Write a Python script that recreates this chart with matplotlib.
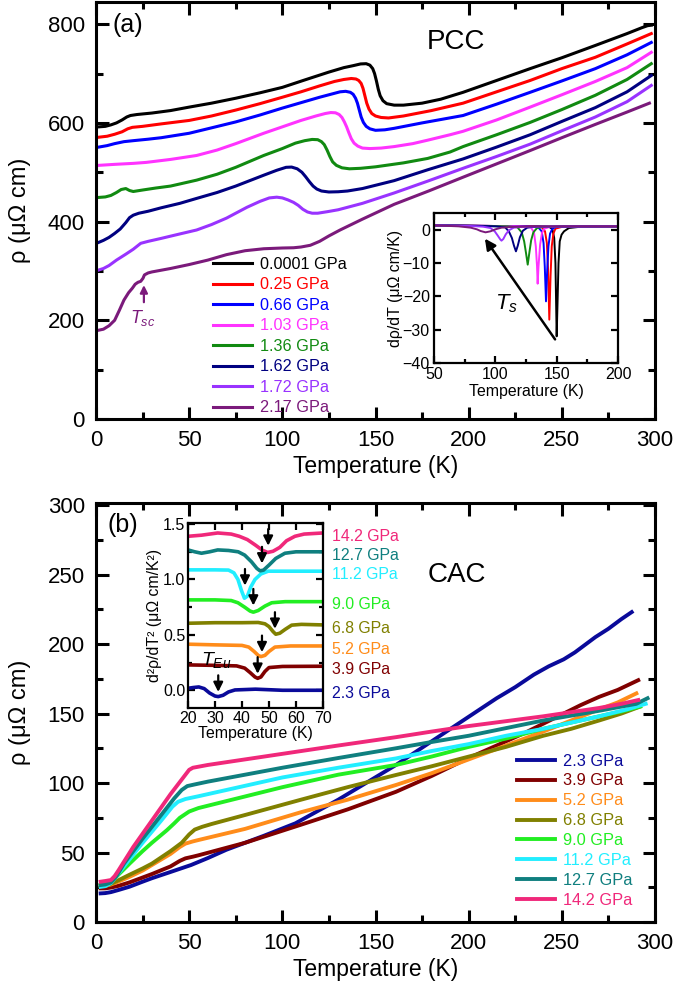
import numpy as np
import matplotlib
matplotlib.use('Agg')
import matplotlib.pyplot as plt
from matplotlib.ticker import MultipleLocator, FormatStrFormatter

plt.rcParams.update({
    'font.family': 'Liberation Sans',
    'mathtext.fontset': 'custom',
    'mathtext.rm': 'Liberation Sans',
    'mathtext.it': 'Liberation Sans:italic',
    'font.size': 16,
    'axes.linewidth': 2.2,
})

# ---------------- panel (a): PCC resistivity ----------------
pcc_labels = ['0.0001 GPa', '0.25 GPa', '0.66 GPa', '1.03 GPa',
              '1.36 GPa', '1.62 GPa', '1.72 GPa', '2.17 GPa']
pcc_colors = ['#000000', '#ff0000', '#0000ff', '#ff33ff',
              '#118a11', '#000080', '#9933ff', '#7b1a7b']

pcc_T_0 = [1.5, 5, 8, 11, 14, 16.5, 18.5, 22, 30, 40, 50, 62, 75, 88, 100, 112, 125, 133, 138, 142, 145, 147,
           148.5, 149.5, 150.5, 151.5, 152.5, 154, 156, 160, 165, 175, 185, 197, 215, 233, 250, 268, 285, 293, 296, 298]
pcc_r_0 = [592, 593, 596, 600, 606, 612, 615, 617, 620, 625, 632, 640, 650, 661, 672, 687, 703, 712, 716, 719.5, 720, 717,
           710, 700, 685, 668, 655, 645, 639, 636, 636, 640, 648, 662, 686, 710, 732, 757, 781, 793, 797, 798]
pcc_T_1 = [1.5, 6, 10, 14, 17, 19.5, 25, 35, 50, 62, 75, 88, 100, 110, 120, 128, 133, 137, 139.5, 141, 142.3, 143.3,
           144.3, 145.3, 146.5, 148, 150, 153, 157, 165, 180, 197, 215, 233, 250, 268, 285, 298]
pcc_r_1 = [571, 573, 577, 582, 588, 591, 593, 598, 605, 614, 626, 639, 652, 663, 675, 684, 688, 690, 689, 686, 680, 670,
           655, 640, 628, 619, 614, 611, 610, 614, 625, 640, 663, 686, 710, 733, 760, 781]
pcc_T_2 = [1.5, 6, 10, 15, 20, 28, 35, 50, 62, 75, 88, 100, 110, 120, 127, 131, 134, 136.5, 138, 139.3, 140.3, 141.3,
           142.3, 143.5, 145, 147, 150, 155, 160, 175, 197, 215, 233, 250, 268, 285, 298]
pcc_r_2 = [551, 554, 558, 562, 564, 567, 570, 579, 590, 602, 616, 630, 641, 652, 659, 663, 664, 662, 658, 650, 640, 626,
           612, 601, 593, 588, 585, 586, 589, 600, 615, 638, 662, 685, 710, 738, 763]
pcc_T_3 = [1.5, 10, 20, 27, 40, 54, 65, 75, 90, 100, 110, 118, 123, 126, 128.5, 130.5, 132, 133.3, 134.5, 135.7, 137,
           138.5, 140.5, 143, 147, 153, 160, 170, 178, 190, 197, 215, 233, 250, 268, 285, 298]
pcc_r_3 = [514, 516, 518, 520, 526, 534, 545, 558, 579, 592, 605, 614, 619, 621, 620.5, 617, 611, 602, 592, 580, 568,
           559, 553, 549, 548, 549, 552, 558, 565, 576, 583, 606, 632, 657, 684, 712, 743]
pcc_T_4 = [1.5, 5, 8, 11, 13.5, 16, 18, 20, 25, 32, 40, 54, 65, 75, 90, 100, 107, 112, 116, 119, 121, 122.5, 124,
           125.5, 127, 129, 132, 136, 142, 150, 165, 178, 190, 197, 215, 233, 250, 268, 285, 298]
pcc_r_4 = [449, 450, 453, 459, 465, 467, 463, 461, 464, 468, 472, 484, 496, 510, 534, 548, 559, 564, 566.5, 566, 562,
           556, 545, 532, 521, 514, 509, 507, 508, 511, 519, 528, 541, 552, 576, 601, 627, 656, 688, 720]
pcc_T_5 = [1.5, 4, 7, 10, 13, 16, 18, 20, 23, 28, 35, 45, 54, 65, 75, 90, 97, 102, 105, 108, 110.5, 112.5, 114.5,
           116.5, 118.5, 121, 125, 130, 135, 143, 160, 178, 197, 215, 233, 250, 268, 285, 298]
pcc_r_5 = [358, 362, 368, 376, 385, 398, 408, 413, 417, 421, 428, 437, 447, 459, 472, 494, 504, 510, 510.5, 507, 500,
           491, 481, 472, 466, 462, 460, 460.5, 462, 467, 483, 505, 527, 551, 576, 603, 631, 663, 696]
pcc_T_6 = [1.5, 4, 7, 11, 16, 20, 22, 24, 28, 35, 45, 54, 62, 70, 81, 88, 93, 97, 100, 103, 106, 108.5, 111, 113.5,
           116, 119, 124, 130, 143, 160, 178, 197, 215, 233, 250, 268, 285, 298]
pcc_r_6 = [302, 305, 311, 322, 334, 344, 350, 356, 360, 366, 375, 383, 394, 407, 429, 441, 448, 449.5, 448, 444, 439,
           433, 425, 419.5, 417, 417, 420, 424, 437, 458, 482, 508, 532, 557, 584, 612, 643, 676]
pcc_T_7 = [1.5, 4, 7, 10, 12.5, 15, 17.5, 19.5, 21, 22.5, 24, 25.2, 26, 28, 30, 40, 50, 60, 70, 80, 90, 100, 106,
           110, 115, 120, 125, 131, 143, 160, 178.5, 197, 215, 233, 250, 268, 285, 297]
pcc_r_7 = [180, 182, 189, 200, 220, 241, 256, 265, 273, 277, 279, 285, 292, 296, 298, 305, 313, 322, 333, 341, 345,
           346.5, 347, 348.5, 352, 360, 371, 383, 405, 435, 462, 490, 517, 544, 570, 597, 622, 640]

# inset (a): d rho / dT
d1_T_0 = [50, 100, 135, 144, 146.5, 148, 149, 150, 150.7, 151.5, 152.5, 154, 156, 160, 170, 200]
d1_v_0 = [1.3, 1.1, 1.0, 0.8, 0.2, -2.5, -10, -32, -22, -10, -3.5, -1.5, -0.5, 0.5, 0.9, 1.0]
d1_T_1 = [50, 100, 130, 138, 140.5, 142, 143, 144, 145, 146, 147.3, 149, 155, 200]
d1_v_1 = [1.3, 1.1, 1.0, 0.7, -0.5, -4, -12, -27, -14, -5, -1.2, 0.3, 0.9, 1.0]
d1_T_2 = [50, 100, 125, 135, 137.8, 139.3, 140.3, 141.3, 142.3, 143.3, 144.6, 146.5, 150, 200]
d1_v_2 = [1.3, 1.1, 1.0, 0.7, -0.5, -4, -11, -21.5, -12, -5, -1.2, 0.3, 0.9, 1.0]
d1_T_3 = [50, 100, 120, 129, 131.5, 133, 134, 134.5, 135.2, 136.5, 138, 140, 145, 200]
d1_v_3 = [1.3, 1.1, 1.0, 0.7, -0.8, -5, -11, -16.2, -11, -4.5, -1.0, 0.3, 0.9, 1.0]
d1_T_4 = [50, 90, 110, 118, 121.5, 123.5, 125, 126.4, 127.7, 129.2, 131, 134, 140, 200]
d1_v_4 = [1.3, 1.1, 1.0, 0.7, -0.8, -3.5, -7, -10.5, -7, -3.2, -0.8, 0.5, 0.9, 1.0]
d1_T_5 = [50, 90, 100, 108, 111, 113.5, 115.2, 116.8, 118.3, 120, 122.5, 126, 132, 200]
d1_v_5 = [1.3, 1.1, 1.0, 0.7, -0.5, -2.5, -4.8, -6.5, -4.8, -2.3, -0.3, 0.6, 0.9, 1.0]
d1_T_6 = [50, 80, 90, 96, 99.5, 102, 104, 105, 106.5, 108.5, 111, 115, 122, 200]
d1_v_6 = [1.3, 1.1, 0.9, 0.5, -0.5, -1.8, -2.9, -3.3, -2.8, -1.4, -0.2, 0.6, 0.9, 1.0]
d1_T_7 = [50, 70, 80, 85, 88, 92, 96, 100, 105, 112, 130, 200]
d1_v_7 = [1.3, 1.0, 0.6, 0.1, -0.4, -0.8, -0.5, 0.1, 0.6, 0.8, 1.0, 1.0]

# ---------------- panel (b): CAC resistivity ----------------
cac_labels = ['2.3 GPa', '3.9 GPa', '5.2 GPa', '6.8 GPa',
              '9.0 GPa', '11.2 GPa', '12.7 GPa', '14.2 GPa']
cac_colors = ['#0a0a9a', '#800000', '#ff8c1a', '#808000',
              '#22ee22', '#22eeff', '#0f7f7f', '#f0287a']

cac_T_0 = [2.5, 5, 8, 12, 18, 25, 30, 40, 51, 60, 70, 90, 107, 130, 161, 170, 179, 188, 197, 206, 215, 225, 235,
           243, 251, 257, 262, 268, 275, 282, 287.5]
cac_r_0 = [20.6, 20.8, 21.5, 23, 25.4, 29, 31.5, 36, 41, 46, 52, 62, 71, 88, 113, 121, 129, 137, 145, 153, 161, 169,
           178, 184, 189, 194, 199, 205, 211, 218, 223]
cac_T_1 = [2.5, 5, 8, 12, 18, 25, 30, 40, 45, 48, 52, 55, 80, 110, 135, 161, 180, 200, 215, 230, 245, 260, 270, 280, 291]
cac_r_1 = [24.2, 24.2, 24.8, 26, 28.5, 32, 34.5, 40, 44, 45.8, 47, 48, 57, 70, 81, 93.7, 105, 118, 127, 136, 146,
           156, 162, 167, 174]
cac_T_2 = [2.5, 5, 8, 12, 18, 25, 30, 40, 45, 48, 52, 55, 80, 110, 135, 161, 180, 200, 220, 240, 255, 270, 280, 290]
cac_r_2 = [26, 26, 27, 29, 32.5, 37, 41, 49, 54, 56.4, 58, 59, 67, 79, 88, 98.6, 107, 117, 127, 137, 145, 153, 158, 164.5]
cac_T_3 = [2.5, 5, 8, 12, 18, 25, 30, 40, 46, 50, 53, 57, 62, 80, 110, 135, 161, 180, 200, 220, 240, 255, 270, 282, 292]
cac_r_3 = [26, 26.3, 27.5, 30, 34, 38.5, 42, 51, 57, 63, 66.5, 68.5, 70.5, 77, 88, 97, 105.8, 112, 119, 126, 134,
           139, 145, 150, 155]
cac_T_4 = [2.5, 5, 8, 12, 18, 25, 30, 38, 42, 45, 50, 55, 70, 100, 130, 161, 180, 200, 220, 240, 255, 270, 282, 292]
cac_r_4 = [26.6, 27, 29, 34, 42, 51, 57, 66, 71, 75, 79.5, 82, 87, 97, 106, 113, 119, 126, 132, 139, 143.5, 148,
           151.5, 155]
cac_T_5 = [2.5, 5, 8, 11, 15, 25, 35, 41, 44, 48, 55, 70, 100, 130, 161, 180, 200, 220, 240, 255, 270, 285, 295]
cac_r_5 = [25.3, 25.8, 28, 33, 40, 57, 73, 83, 86.5, 88.5, 90.5, 95, 104, 111, 117.7, 123, 128, 134, 139, 143.5,
           148, 153, 157]
cac_T_6 = [2.5, 5, 8, 11, 15, 25, 35, 42, 46, 49, 53, 60, 100, 130, 161, 180, 200, 220, 240, 255, 270, 282, 290, 296]
cac_r_6 = [26.6, 27, 28.5, 33, 42, 60, 77, 89, 95, 97.8, 99, 101, 111, 118, 125, 129.5, 134, 139.5, 145, 148.5,
           152, 155, 157, 161]
cac_T_7 = [2.5, 5, 8, 10, 12, 20, 30, 40, 48, 50, 52, 56, 60, 100, 130, 161, 180, 200, 220, 240, 255, 270, 282, 291]
cac_r_7 = [29, 29.5, 30.2, 33, 37, 54, 73, 92, 106, 109.5, 111, 112, 113, 121, 127, 133, 137, 141, 144.5, 148, 151,
           154, 157, 159.7]

# inset (b): d2 rho / dT2
d2_T_0 = [20, 22, 24, 26, 28, 30, 31.2, 33, 35, 37.4, 45, 55, 70]
d2_v_0 = [0.018, 0.025, 0.03, 0.015, -0.025, -0.052, -0.057, -0.045, -0.015, 0.003, 0.01, 0.0, 0.0]
d2_T_1 = [20, 30, 38, 41, 43, 44.8, 45.8, 47, 48.5, 50, 55, 70]
d2_v_1 = [0.229, 0.225, 0.22, 0.2, 0.16, 0.12, 0.108, 0.12, 0.17, 0.205, 0.215, 0.217]
d2_T_2 = [20, 30, 40, 42.5, 44.5, 46, 47, 48.5, 50, 52.2, 58, 70]
d2_v_2 = [0.416, 0.41, 0.405, 0.39, 0.35, 0.315, 0.304, 0.315, 0.35, 0.39, 0.4, 0.4]
d2_T_3 = [20, 30, 40, 46, 48.5, 50, 51.5, 52.5, 54, 56, 58.4, 62, 70]
d2_v_3 = [0.605, 0.61, 0.61, 0.612, 0.6, 0.575, 0.53, 0.506, 0.515, 0.55, 0.588, 0.595, 0.59]
d2_T_4 = [20, 30, 36, 38.5, 41, 43, 44.2, 46, 48.5, 51, 56, 70]
d2_v_4 = [0.816, 0.816, 0.81, 0.79, 0.75, 0.715, 0.705, 0.72, 0.76, 0.79, 0.8, 0.8]
d2_T_5 = [20, 30, 35, 37, 38.5, 39.8, 40.9, 42, 43.2, 44.8, 47, 49.7, 70]
d2_v_5 = [1.087, 1.087, 1.085, 1.06, 1.0, 0.9, 0.831, 0.85, 0.93, 1.0, 1.05, 1.075, 1.075]
d2_T_6 = [20, 22.5, 25, 28, 31, 35, 38.6, 41, 43.5, 45.5, 46.7, 48, 50, 52.5, 55.9, 60, 70]
d2_v_6 = [1.267, 1.25, 1.237, 1.25, 1.267, 1.262, 1.25, 1.22, 1.16, 1.1, 1.078, 1.085, 1.13, 1.19, 1.237, 1.25, 1.25]
d2_T_7 = [20, 25, 31, 36, 39, 42, 45, 47.5, 49.5, 51.5, 54, 56.5, 59.6, 63, 70]
d2_v_7 = [1.39, 1.4, 1.42, 1.41, 1.39, 1.36, 1.31, 1.265, 1.244, 1.255, 1.29, 1.35, 1.39, 1.41, 1.42]

# T_Eu arrow positions (inset b)
eu_T = [31.2, 45.8, 47.4, 52.2, 44.2, 41.1, 47.4, 49.7]
eu_tip = [-0.04, 0.124, 0.319, 0.53, 0.74, 0.92, 1.12, 1.28]

pcc_T = [pcc_T_0, pcc_T_1, pcc_T_2, pcc_T_3, pcc_T_4, pcc_T_5, pcc_T_6, pcc_T_7]
pcc_r = [pcc_r_0, pcc_r_1, pcc_r_2, pcc_r_3, pcc_r_4, pcc_r_5, pcc_r_6, pcc_r_7]
d1_T = [d1_T_0, d1_T_1, d1_T_2, d1_T_3, d1_T_4, d1_T_5, d1_T_6, d1_T_7]
d1_v = [d1_v_0, d1_v_1, d1_v_2, d1_v_3, d1_v_4, d1_v_5, d1_v_6, d1_v_7]
cac_T = [cac_T_0, cac_T_1, cac_T_2, cac_T_3, cac_T_4, cac_T_5, cac_T_6, cac_T_7]
cac_r = [cac_r_0, cac_r_1, cac_r_2, cac_r_3, cac_r_4, cac_r_5, cac_r_6, cac_r_7]
d2_T = [d2_T_0, d2_T_1, d2_T_2, d2_T_3, d2_T_4, d2_T_5, d2_T_6, d2_T_7]
d2_v = [d2_v_0, d2_v_1, d2_v_2, d2_v_3, d2_v_4, d2_v_5, d2_v_6, d2_v_7]


def style_axes(ax, major, minor, width, pad):
    ax.tick_params(which='both', direction='in', top=True, right=True, width=width)
    ax.tick_params(which='major', length=major, pad=pad)
    ax.tick_params(which='minor', length=minor)
    for s in ax.spines.values():
        s.set_linewidth(width)


W, H = 675, 986
fig = plt.figure(figsize=(W / 100, H / 100), dpi=100)

# ---- main (a)
ax_a = fig.add_axes([96 / W, 1 - 419 / H, 559 / W, 417 / H])
for T, r, c, lab in zip(pcc_T, pcc_r, pcc_colors, pcc_labels):
    ax_a.plot(T, r, color=c, lw=2.2, label=lab, solid_joinstyle='round')
ax_a.set_xlim(0, 300)
ax_a.set_ylim(0, 845)
ax_a.xaxis.set_major_locator(MultipleLocator(50))
ax_a.xaxis.set_minor_locator(MultipleLocator(25))
ax_a.yaxis.set_major_locator(MultipleLocator(200))
ax_a.yaxis.set_minor_locator(MultipleLocator(100))
style_axes(ax_a, 9, 5, 2.2, 8)
ax_a.tick_params(labelsize=16)
ax_a.set_xlabel('Temperature (K)', fontsize=16.5, labelpad=3)
ax_a.set_ylabel('ρ (μΩ cm)', fontsize=17, labelpad=12)
ax_a.text(0.03, 0.945, '(a)', transform=ax_a.transAxes, fontsize=18, va='center')
ax_a.text(0.644, 0.904, 'PCC', transform=ax_a.transAxes, fontsize=20, ha='center', va='center')
ax_a.legend(loc='upper left', bbox_to_anchor=(0.2093, 0.389), frameon=False,
            fontsize=11.7, handlelength=2.4, handletextpad=0.5, labelspacing=0.34,
            borderpad=0, borderaxespad=0, labelcolor='linecolor')
ax_a.annotate('', xy=(25.7, 277), xytext=(25.7, 231),
              arrowprops=dict(arrowstyle='-|>', color='#7b1a7b', lw=1.6, mutation_scale=11))
ax_a.text(25.3, 204, r'$T_{sc}$', color='#7b1a7b', fontsize=13, ha='center', va='center')

# ---- inset (a)
ax_ai = fig.add_axes([434 / W, 1 - 363 / H, 184 / W, 150 / H])
for T, v, c in zip(d1_T, d1_v, pcc_colors):
    ax_ai.plot(T, v, color=c, lw=1.4)
ax_ai.set_xlim(50, 200)
ax_ai.set_ylim(-40, 5)
ax_ai.xaxis.set_major_locator(MultipleLocator(50))
ax_ai.xaxis.set_minor_locator(MultipleLocator(25))
ax_ai.yaxis.set_major_locator(MultipleLocator(10))
style_axes(ax_ai, 5, 3, 1.6, 3)
ax_ai.tick_params(labelsize=11.5)
ax_ai.set_xlabel('Temperature (K)', fontsize=11.4, labelpad=1)
ax_ai.set_ylabel('dρ/dT (μΩ cm/K)', fontsize=11.4, labelpad=0)
ax_ai.annotate('', xy=(90.2, -2.0), xytext=(150, -33.6),
               arrowprops=dict(arrowstyle='-|>', color='k', lw=1.8, mutation_scale=16))
ax_ai.text(109.3, -22.1, r'$T_{s}$', fontsize=16, ha='center', va='center')

# ---- main (b)
ax_b = fig.add_axes([96 / W, 1 - 922 / H, 559 / W, 419 / H])
for T, r, c, lab in zip(cac_T, cac_r, cac_colors, cac_labels):
    ax_b.plot(T, r, color=c, lw=2.8, label=lab, solid_joinstyle='round')
ax_b.set_xlim(0, 300)
ax_b.set_ylim(0, 301.5)
ax_b.xaxis.set_major_locator(MultipleLocator(50))
ax_b.xaxis.set_minor_locator(MultipleLocator(25))
ax_b.yaxis.set_major_locator(MultipleLocator(50))
ax_b.yaxis.set_minor_locator(MultipleLocator(25))
style_axes(ax_b, 9, 5, 2.2, 8)
ax_b.tick_params(labelsize=16)
ax_b.set_xlabel('Temperature (K)', fontsize=16.5, labelpad=3)
ax_b.set_ylabel('ρ (μΩ cm)', fontsize=17, labelpad=12)
ax_b.text(0.021, 0.947, '(b)', transform=ax_b.transAxes, fontsize=18, va='center')
ax_b.text(0.646, 0.828, 'CAC', transform=ax_b.transAxes, fontsize=20, ha='center', va='center')
ax_b.legend(loc='upper left', bbox_to_anchor=(0.753, 0.402), frameon=False,
            fontsize=11.8, handlelength=2.35, handletextpad=0.45, labelspacing=0.3,
            borderpad=0, borderaxespad=0, labelcolor='linecolor')

# ---- inset (b)
ax_bi = fig.add_axes([188 / W, 1 - 708 / H, 135 / W, 185 / H])
for T, v, c, lab in zip(d2_T, d2_v, cac_colors, cac_labels):
    ax_bi.plot(T, v, color=c, lw=2.6, solid_joinstyle='round')
    ax_bi.text(73.5, v[-1] - 0.03, lab, color=c, fontsize=11.4, va='center',
               ha='left', clip_on=False)
for t, tip in zip(eu_T, eu_tip):
    ax_bi.annotate('', xy=(t, tip), xytext=(t, tip + 0.2),
                   arrowprops=dict(arrowstyle='-|>', color='k', lw=1.6, mutation_scale=14))
ax_bi.text(30.4, 0.27, r'$T_{Eu}$', fontsize=14, ha='center', va='center')
ax_bi.set_xlim(20, 70)
ax_bi.set_ylim(-0.16, 1.51)
ax_bi.xaxis.set_major_locator(MultipleLocator(10))
ax_bi.yaxis.set_major_locator(MultipleLocator(0.5))
ax_bi.yaxis.set_minor_locator(MultipleLocator(0.25))
ax_bi.yaxis.set_major_formatter(FormatStrFormatter('%.1f'))
style_axes(ax_bi, 5, 3, 1.6, 2)
ax_bi.tick_params(labelsize=11.5)
ax_bi.set_xlabel('Temperature (K)', fontsize=11.4, labelpad=0)
ax_bi.set_ylabel('d²ρ/dT² (μΩ cm/K²)', fontsize=11.4, labelpad=1)

fig.savefig('out.png', dpi=100)
